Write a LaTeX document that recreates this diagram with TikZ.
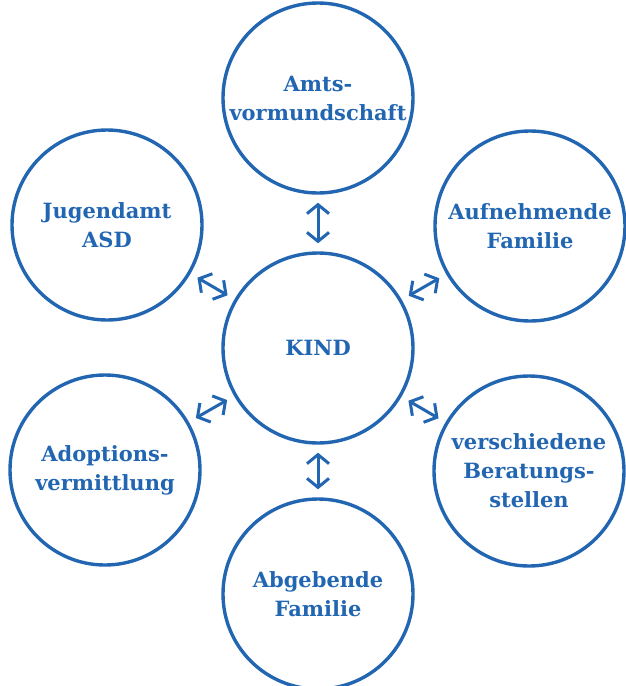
\documentclass[tikz,border=0pt]{standalone}
\usepackage{fontspec}
\setmainfont{DejaVu Serif}
\usetikzlibrary{positioning,arrows.meta}
\definecolor{kblue}{RGB}{34,102,178}
\tikzset{
	place/.style={circle,draw=kblue,line width=3.4pt,minimum size=190pt,inner sep=0pt,
		align=center,text=kblue,font=\bfseries\fontsize{21}{29}\selectfont},
	link/.style={color=kblue,line width=3pt,shorten <=8pt,shorten >=8pt,
		{Straight Barb[length=9pt,width=22pt]}-{Straight Barb[length=9pt,width=22pt]}}
}

\begin{document}
\begin{tikzpicture}[node distance=245pt,on grid]
	\useasboundingbox (0,0) rectangle (625pt,-686pt);
	\node[place] (kind) at (318pt,-348pt) {KIND};
	\node[place] (amt) [above=250pt of kind] {Amts-\\vormundschaft};
	\node[place] (jugend) [above left=123pt and 211pt of kind] {Jugendamt\\ASD};
	\node[place] (aufnehm) [above right=122pt and 212pt of kind] {Aufnehmende\\Familie};
	\node[place] (adopt) [below left=122pt and 213pt of kind] {Adoptions-\\vermittlung};
	\node[place] (berat) [below right=123pt and 211pt of kind] {verschiedene\\Beratungs-\\stellen};
	\node[place] (abgeb) [below=246pt of kind] {Abgebende\\Familie};
	\path[link]
	 (kind) edge (amt)
	        edge (jugend)
	        edge (aufnehm)
	        edge (adopt)
	        edge (berat)
	        edge (abgeb);
\end{tikzpicture}
\end{document}
